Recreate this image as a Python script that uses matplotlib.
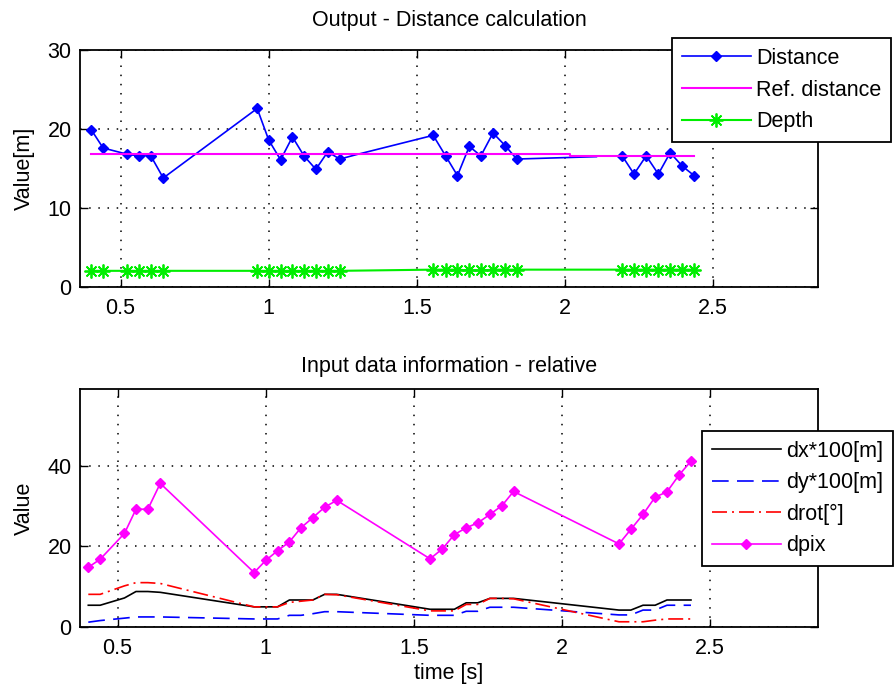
import matplotlib
matplotlib.use("Agg")
import matplotlib.pyplot as plt
from matplotlib.ticker import FormatStrFormatter
import numpy as np

plt.rcParams['font.family'] = ['Liberation Sans', 'DejaVu Sans']
plt.rcParams['font.size'] = 15.5

# time of the measured frames [s]
time_s = [0.401, 0.441, 0.523, 0.562, 0.602, 0.644,
          0.961, 1.000, 1.040, 1.080, 1.119, 1.159, 1.199, 1.240,
          1.555, 1.597, 1.637, 1.677, 1.716, 1.757, 1.798, 1.837,
          2.193, 2.233, 2.274, 2.315, 2.355, 2.396, 2.436]

# output - distance [m]
distance = [19.9, 17.6, 16.8, 16.6, 16.6, 13.8,
            22.6, 18.6, 16.1, 19.0, 16.6, 14.9, 17.1, 16.2,
            19.2, 16.6, 14.1, 17.8, 16.6, 19.5, 17.9, 16.2,
            16.6, 14.3, 16.6, 14.3, 17.0, 15.3, 14.1]
# distance line also passes through a few frames without a marker
extra_t = [1.300, 1.926, 2.106]
extra_v = [16.8, 16.3, 16.5]

ref_t = [0.401, 2.016, 2.016, 2.437]
ref_dist = [16.8, 16.8, 16.6, 16.6]

depth = [2.05, 2.05, 2.05, 2.05, 2.05, 2.05,
         2.05, 2.05, 2.05, 2.05, 2.05, 2.05, 2.05, 2.05,
         2.2, 2.2, 2.2, 2.1, 2.1, 2.2, 2.2, 2.2,
         2.2, 2.2, 2.2, 2.2, 2.2, 2.2, 2.2]

# input data information - relative
dx100 = [5.4, 5.4, 7.2, 8.8, 8.8, 8.6,
         5.0, 5.0, 5.0, 6.7, 6.7, 6.7, 8.1, 8.1,
         4.4, 4.4, 4.4, 6.0, 6.0, 7.1, 7.1, 7.1,
         4.2, 4.2, 5.4, 5.4, 6.7, 6.7, 6.7]
dy100 = [1.2, 1.6, 2.2, 2.5, 2.5, 2.5,
         2.0, 2.0, 2.0, 2.9, 2.9, 3.3, 3.8, 3.8,
         2.9, 2.9, 2.9, 3.9, 3.9, 4.9, 4.9, 4.9,
         3.0, 3.0, 4.2, 4.2, 5.4, 5.4, 5.4]
drot = [8.1, 8.1, 10.2, 11.0, 11.0, 10.8,
        5.0, 5.0, 5.0, 6.1, 6.4, 6.7, 8.1, 8.0,
        4.0, 4.0, 4.0, 5.6, 5.6, 7.1, 7.1, 7.0,
        1.3, 1.3, 1.3, 1.7, 2.0, 2.0, 2.0]
dpix = [14.8, 16.8, 23.2, 29.2, 29.2, 35.6,
        13.5, 16.5, 18.9, 21.1, 24.6, 27.1, 29.7, 31.4,
        16.9, 19.4, 22.9, 24.6, 25.8, 27.9, 30.1, 33.6,
        20.6, 24.2, 27.9, 32.2, 33.5, 37.7, 41.1]

# build the distance line: measured frames + unmarked frames, break before last block
line_t = time_s[:14] + extra_t[:1] + time_s[14:22] + extra_t[1:] + [np.nan] + time_s[22:]
line_v = distance[:14] + extra_v[:1] + distance[14:22] + extra_v[1:] + [np.nan] + distance[22:]
marked = [i for i, t in enumerate(line_t) if t in time_s]

fig = plt.figure(figsize=(8.94, 6.87), dpi=100)
ax1 = fig.add_axes([0.0895, 0.5822, 0.8255, 0.345])
ax2 = fig.add_axes([0.0895, 0.0873, 0.8255, 0.3465])

star = (8, 2, 0)

ax1.plot(line_t, line_v, color='#0000ff', lw=1.2, marker='D', markersize=4.8,
         markevery=marked, label='Distance')
ax1.plot(ref_t, ref_dist, color='#ff00ff', lw=1.5, label='Ref. distance')
ax1.plot(time_s, depth, color='#00ee00', lw=1.5, marker=star, markersize=10,
         markeredgewidth=1.3, label='Depth')
ax1.set_xlim(0.363, 2.854)
ax1.set_ylim(0, 30)
ax1.set_yticks([0, 10, 20, 30])
ax1.set_ylabel('Value[m]', labelpad=9)
ax1.set_title('Output - Distance calculation', fontsize=15.5, pad=17)

ax2.plot(time_s, dx100, color='black', lw=1.2, label='dx*100[m]')
ax2.plot(time_s, dy100, color='#0000ff', lw=1.2, dashes=(10, 5), label='dy*100[m]')
ax2.plot(time_s, drot, color='#ff0000', lw=1.2, dashes=(9, 3, 1.2, 3), label='drot[°]')
ax2.plot(time_s, dpix, color='#ff00ff', lw=1.2, marker='D', markersize=4.8, label='dpix')
ax2.set_xlim(0.373, 2.865)
ax2.set_ylim(0, 59)
ax2.set_yticks([0, 20, 40])
ax2.set_ylabel('Value', labelpad=9)
ax2.set_xlabel('time [s]', labelpad=3)
ax2.set_title('Input data information - relative', fontsize=15.5, pad=12)

for ax in (ax1, ax2):
    ax.set_xticks([0.5, 1, 1.5, 2, 2.5])
    ax.xaxis.set_major_formatter(FormatStrFormatter('%g'))
    ax.grid(True, color='black', linestyle=(0, (1, 5)), lw=1.1)
    ax.tick_params(direction='in', length=6, width=1, top=True, right=True)
    ax.tick_params(axis='x', pad=8)
    ax.tick_params(axis='y', pad=6)
    for s in ax.spines.values():
        s.set_linewidth(1.3)

leg_kw = dict(loc='upper left', fancybox=False, framealpha=1, edgecolor='black',
              handlelength=3.2, handletextpad=0.25, borderpad=0.45, labelspacing=0.49,
              borderaxespad=0, fontsize=15.5)
lg1 = ax1.legend(bbox_to_anchor=(0.7517, 0.9443), bbox_transform=fig.transFigure, **leg_kw)
lg2 = ax2.legend(bbox_to_anchor=(0.7852, 0.3726), bbox_transform=fig.transFigure, **leg_kw)
for lg in (lg1, lg2):
    lg.get_frame().set_linewidth(1.3)

fig.savefig('out.png', dpi=100)
